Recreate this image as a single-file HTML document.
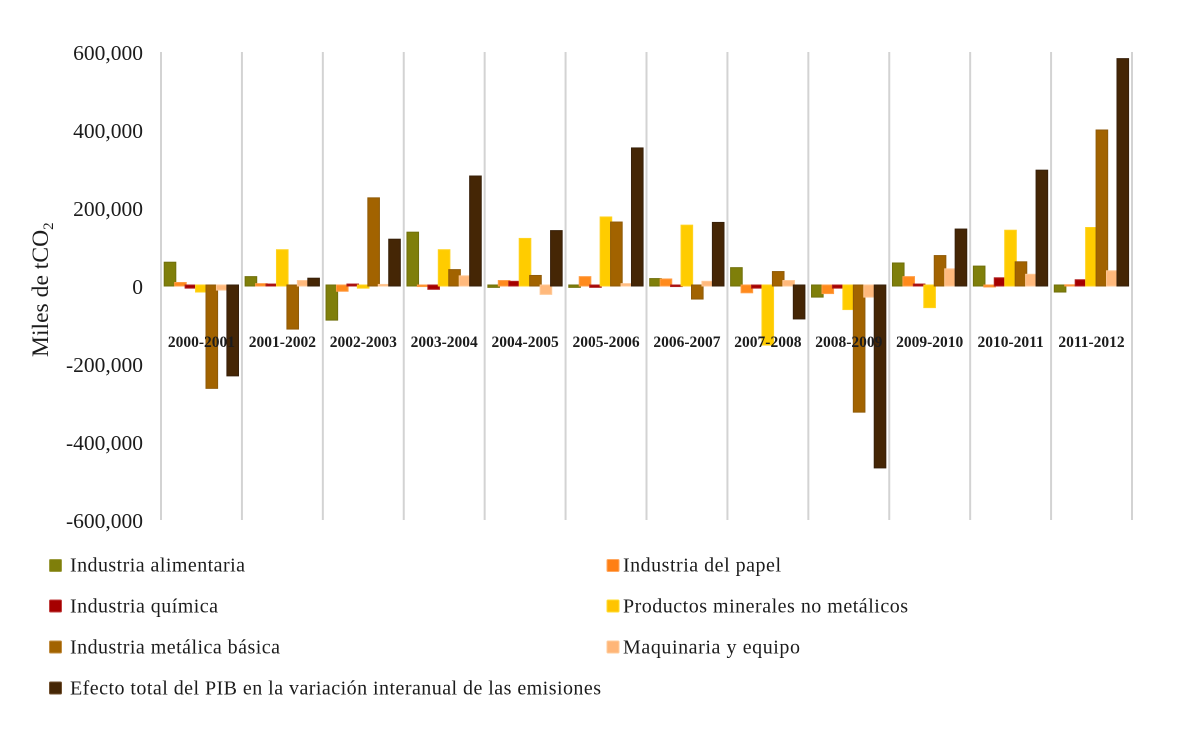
<!DOCTYPE html>
<html lang="es">
<head>
<meta charset="utf-8">
<title>Efecto del PIB en la variación interanual de las emisiones</title>
<style>
html,body{margin:0;padding:0;background:#fff;}
body{width:1181px;height:737px;overflow:hidden;}
svg{display:block;}
text{font-family:"Liberation Serif",serif;fill:#1c1c1c;}
.legend-text{font-size:20px;}
</style>
</head>
<body>
<svg id="chart" width="1181" height="737" viewBox="0 0 1181 737" xmlns="http://www.w3.org/2000/svg">
<rect x="0" y="0" width="1181" height="737" fill="#ffffff"/>
<g id="grid"></g>
<g id="bars" style="filter:blur(0.3px)"></g>
<g id="ticks"></g>
<g id="cats"></g>
<text transform="translate(48,357) rotate(-90)" font-size="23.6">Miles de tCO<tspan font-size="15" dy="5">2</tspan></text>
<g>
<g>
<rect x="49.5" y="559.5" width="12" height="12" rx="1" fill="#7f7f0a" stroke="#9c9c40"/>
<text class="legend-text" x="70" y="571.5" textLength="175">Industria alimentaria</text>
</g>
<g>
<rect x="607" y="559.5" width="12" height="12" rx="1" fill="#ff7f14" stroke="#ffa860"/>
<text class="legend-text" x="623" y="571.5" textLength="158">Industria del papel</text>
</g>
<g>
<rect x="49.5" y="600" width="12" height="12" rx="1" fill="#a50000" stroke="#c04040"/>
<text class="legend-text" x="70" y="612.5" textLength="148">Industria química</text>
</g>
<g>
<rect x="607" y="600" width="12" height="12" rx="1" fill="#ffc400" stroke="#ffdd30"/>
<text class="legend-text" x="623" y="612.5" textLength="285">Productos minerales no metálicos</text>
</g>
<g>
<rect x="49.5" y="641" width="12" height="12" rx="1" fill="#a26300" stroke="#c08c40"/>
<text class="legend-text" x="70" y="653.5" textLength="210">Industria metálica básica</text>
</g>
<g>
<rect x="607" y="641" width="12" height="12" rx="1" fill="#ffb678" stroke="#ffcc9c"/>
<text class="legend-text" x="623" y="653.5" textLength="177">Maquinaria y equipo</text>
</g>
<g>
<rect x="49.5" y="682" width="12" height="12" rx="1" fill="#452605" stroke="#705030"/>
<text class="legend-text" x="70" y="694.5" textLength="531">Efecto total del PIB en la variación interanual de las emisiones</text>
</g>
</g>
</svg>
<script>
const categories = ["2000-2001","2001-2002","2002-2003","2003-2004","2004-2005","2005-2006","2006-2007","2007-2008","2008-2009","2009-2010","2010-2011","2011-2012"];
const tickValues = [600000,400000,200000,0,-200000,-400000,-600000];
const tickLabels = ["600,000","400,000","200,000","0","-200,000","-400,000","-600,000"];
const industriaAlimentaria = [61000,24000,-90000,138000,-6000,-6000,19000,47000,-31000,59000,51000,-18000];
const industriaPapel = [9000,6000,-16000,-4000,14000,24000,18000,-20000,-22000,24000,-5000,3000];
const industriaQuimica = [-8000,5000,5000,-11000,12000,-6000,-4000,-8000,-8000,5000,21000,16000];
const productosMinerales = [-18000,93000,-8000,93000,122000,177000,156000,-154000,-63000,-58000,143000,150000];
const industriaMetalica = [-265000,-113000,226000,42000,27000,164000,-36000,37000,-326000,78000,62000,400000];
const maquinariaEquipo = [-13000,14000,4000,26000,-24000,6000,12000,14000,-31000,44000,30000,39000];
const efectoTotalPib = [-233000,20000,120000,282000,142000,354000,163000,-87000,-469000,146000,297000,583000];

const seriesNames = ["industria-alimentaria","industria-del-papel","industria-quimica","productos-minerales","industria-metalica","maquinaria-y-equipo","efecto-total-pib"];
const seriesValues = [industriaAlimentaria,industriaPapel,industriaQuimica,productosMinerales,industriaMetalica,maquinariaEquipo,efectoTotalPib];
const seriesFill = ["#7f7f0a","#ff8a1c","#a50000","#ffcc00","#a26300","#ffb97c","#452605"];
const seriesStroke = ["#6f6f0a","#ff9d45","#b02020","#ffd21e","#8f5a08","#ffc896","#37200a"];

const NS = "http://www.w3.org/2000/svg";
const plotLeft = 161, plotRight = 1132, plotTop = 52, plotBottom = 520;
const domainMax = 600000, domainMin = -600000;
function yScale(v){ return plotTop + (domainMax - v) / (domainMax - domainMin) * (plotBottom - plotTop); }
function xCat(i){ return plotLeft + i * (plotRight - plotLeft) / categories.length; }
function xBar(i, s){ return xCat(i) + 3.2 + s * 10.45; }
const barWidth = 11.6;
const gridG = document.getElementById("grid");
const barsG = document.getElementById("bars");
const ticksG = document.getElementById("ticks");
const catsG = document.getElementById("cats");

for (let i = 0; i <= categories.length; i++) {
  const line = document.createElementNS(NS, "line");
  line.setAttribute("x1", xCat(i));
  line.setAttribute("x2", xCat(i));
  line.setAttribute("y1", plotTop);
  line.setAttribute("y2", plotBottom);
  line.setAttribute("stroke", "#d3d3d3");
  line.setAttribute("stroke-width", "2");
  
  
  gridG.appendChild(line);
}

categories.forEach(function (cat, i) {
  seriesValues.forEach(function (values, s) {
    const v = values[i];
    const top = Math.min(yScale(v), yScale(0));
    const h = Math.abs(yScale(v) - yScale(0));
    const r = document.createElementNS(NS, "rect");
    r.setAttribute("x", xBar(i, s));
    r.setAttribute("y", v >= 0 ? top : top - 1);
    r.setAttribute("width", barWidth);
    r.setAttribute("height", h);
    r.setAttribute("fill", seriesFill[s]);
    r.setAttribute("stroke", seriesStroke[s]);
    r.setAttribute("stroke-width", "1");
    
    
    barsG.appendChild(r);
  });
});

tickValues.forEach(function (v, i) {
  const t = document.createElementNS(NS, "text");
  t.setAttribute("x", 143);
  t.setAttribute("y", yScale(v) + 8);
  t.setAttribute("text-anchor", "end");
  t.setAttribute("font-size", "21.5");
  t.textContent = tickLabels[i];
  
  
  ticksG.appendChild(t);
});

categories.forEach(function (cat, i) {
  const t = document.createElementNS(NS, "text");
  t.setAttribute("x", xCat(i) + (plotRight - plotLeft) / categories.length / 2);
  t.setAttribute("y", 347);
  t.setAttribute("text-anchor", "middle");
  t.setAttribute("font-size", "15.5");
  t.setAttribute("font-weight", "bold");
  t.textContent = cat;
  
  
  catsG.appendChild(t);
});
</script>
</body>
</html>
